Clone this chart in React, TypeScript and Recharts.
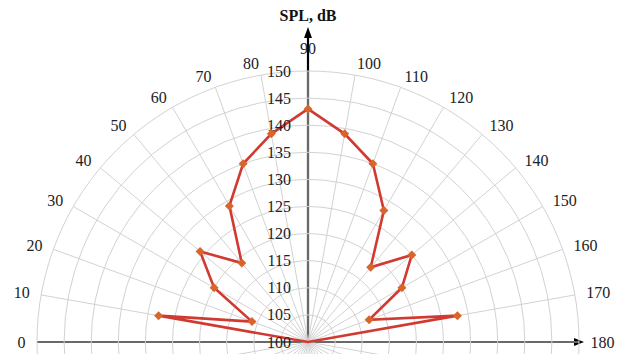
import React from "react";
import { RadarChart, Radar, PolarGrid, PolarAngleAxis, PolarRadiusAxis } from "recharts";

// directivity pattern, angle in degrees, level in dB
const angles = [0, 10, 20, 30, 40, 50, 60, 70, 80, 90, 100, 110, 120, 130, 140, 150, 160, 170, 180];
const splValues = [100, 128, 111, 120, 126, 119, 129, 135, 139, 143, 139, 135, 128, 118, 125, 120, 112, 128, 100];
const angleTicks = [0, 10, 20, 30, 40, 50, 60, 70, 80, 90, 100, 110, 120, 130, 140, 150, 160, 170, 180,
  190, 200, 210, 220, 230, 240, 250, 260, 270, 280, 290, 300, 310, 320, 330, 340, 350];
const radiusTicks = [100, 105, 110, 115, 120, 125, 130, 135, 140, 145, 150];

const data = angles.map((angle, i) => ({ angle, spl: splValues[i] }));

const W = 624;
const H = 354;
const CX = 308;
const CY = 342;
const R = 271;
const FONT = "'Liberation Serif', 'Times New Roman', serif";
const textStyle = { fontFamily: FONT, fontSize: 16 };

const AngleTick = (props: any) => {
  const { x, y, payload } = props;
  const v = payload.value;
  if (v > 180) return <g />;
  const dx = x - CX;
  const dy = y - CY;
  const len = Math.sqrt(dx * dx + dy * dy) || 1;
  const ux = dx / len;
  const uy = dy / len;
  const r = R + 11.5;
  let px = CX + ux * r;
  let py = CY + uy * r;
  let anchor: "start" | "middle" | "end" = "middle";
  if (ux < -0.01) anchor = "end";
  else if (ux > 0.01) anchor = "start";
  else py -= 11;
  return (
    <text x={px} y={py} textAnchor={anchor} dominantBaseline="central" style={textStyle} fill="#222">
      {v}
    </text>
  );
};

const RadiusTick = (props: any) => {
  const { x, y, payload } = props;
  return (
    <text x={x - 17} y={y} textAnchor="end" dominantBaseline="central" style={textStyle} fill="#222">
      {payload.value}
    </text>
  );
};

const Diamond = (props: any) => {
  const { cx, cy, payload, index } = props;
  if (payload.spl <= 100) return <g key={index} />;
  const s = 4.5;
  return (
    <polygon
      key={index}
      points={`${cx},${cy - s} ${cx + s},${cy} ${cx},${cy + s} ${cx - s},${cy}`}
      fill="#d9652b"
      stroke="none"
    />
  );
};

export default function App() {
  return (
    <div style={{ position: "absolute", left: 0, top: 0, width: W, height: H, overflow: "hidden", background: "#fff" }}>
      <svg width={W} height={H} style={{ position: "absolute", left: 0, top: 0 }}>
        <text x={CX} y={15} textAnchor="middle" dominantBaseline="central" style={{ ...textStyle, fontWeight: "bold" }} fill="#111">
          SPL, dB
        </text>
        {/* horizontal axis with arrow */}
        <line x1={CX - R} y1={CY} x2={CX + R - 4} y2={CY} stroke="#000" strokeWidth={2.2} />
        <polygon points={`${CX + R - 5},${CY - 4} ${CX + R + 5},${CY} ${CX + R - 5},${CY + 4}`} fill="#000" />
        {/* vertical axis with arrow */}
        <line x1={CX} y1={CY} x2={CX} y2={38} stroke="#000" strokeWidth={2.2} />
        <polygon points={`${CX - 4},${38} ${CX},${27} ${CX + 4},${38}`} fill="#000" />
      </svg>
      <div style={{ position: "absolute", left: 0, top: 0 }}>
        <RadarChart
          width={W}
          height={H}
          data={data}
          cx={CX}
          cy={CY}
          innerRadius={0}
          outerRadius={R}
          startAngle={180}
          endAngle={-180}
          margin={{ top: 0, right: 0, bottom: 0, left: 0 }}
        >
          <PolarGrid gridType="circle" stroke="#d2d2d2" strokeWidth={1} />
          <PolarAngleAxis
            dataKey="angle"
            type="number"
            domain={[0, 360]}
            ticks={angleTicks}
            tick={<AngleTick />}
            axisLine={false}
            tickLine={false}
          />
          <PolarRadiusAxis
            angle={90}
            type="number"
            domain={[100, 150]}
            ticks={radiusTicks}
            tick={<RadiusTick />}
            axisLine={false}
            tickLine={false}
          />
          <Radar
            dataKey="spl"
            stroke="#d03a30"
            strokeWidth={2.6}
            fill="none"
            fillOpacity={0}
            dot={Diamond}
            isAnimationActive={false}
          />
        </RadarChart>
      </div>
    </div>
  );
}
